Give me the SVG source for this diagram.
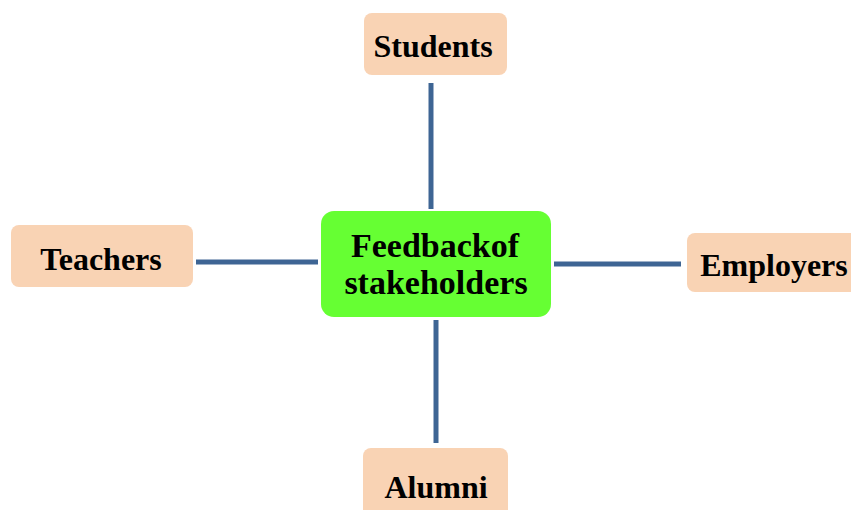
<svg xmlns="http://www.w3.org/2000/svg" width="851" height="510" viewBox="0 0 851 510">
<style>
.n{fill:#F9D3B4}
.c{fill:#66FF33}
.t{font-family:"Liberation Serif","Times New Roman",serif;font-weight:bold;font-size:32px;fill:#000;text-anchor:middle}
.e{stroke:#3E6594;stroke-width:5;fill:none}
</style>
<rect width="851" height="510" fill="#fff"/>
<g id="connectors">
<line class="e" x1="431" y1="83" x2="431" y2="209"/>
<line class="e" x1="196" y1="262" x2="318" y2="262"/>
<line class="e" x1="554" y1="264" x2="681" y2="264"/>
<line class="e" x1="436" y1="320" x2="436" y2="443"/>
</g>
<g id="center">
<rect class="c" x="321" y="211" width="230" height="106" rx="13"/>
<text class="t" x="435" y="257" style="font-size:34px">Feedbackof</text>
<text class="t" x="436" y="294" style="font-size:34px">stakeholders</text>
</g>
<g id="students">
<rect class="n" x="364" y="13" width="143" height="62" rx="8"/>
<text class="t" x="433" y="57">Students</text>
</g>
<g id="teachers">
<rect class="n" x="11" y="225" width="182" height="62" rx="8"/>
<text class="t" x="101" y="270">Teachers</text>
</g>
<g id="employers">
<rect class="n" x="687" y="233" width="175" height="59" rx="8"/>
<text class="t" x="774" y="276">Employers</text>
</g>
<g id="alumni">
<rect class="n" x="363" y="448" width="145" height="80" rx="8"/>
<text class="t" x="436" y="498">Alumni</text>
</g>
</svg>
